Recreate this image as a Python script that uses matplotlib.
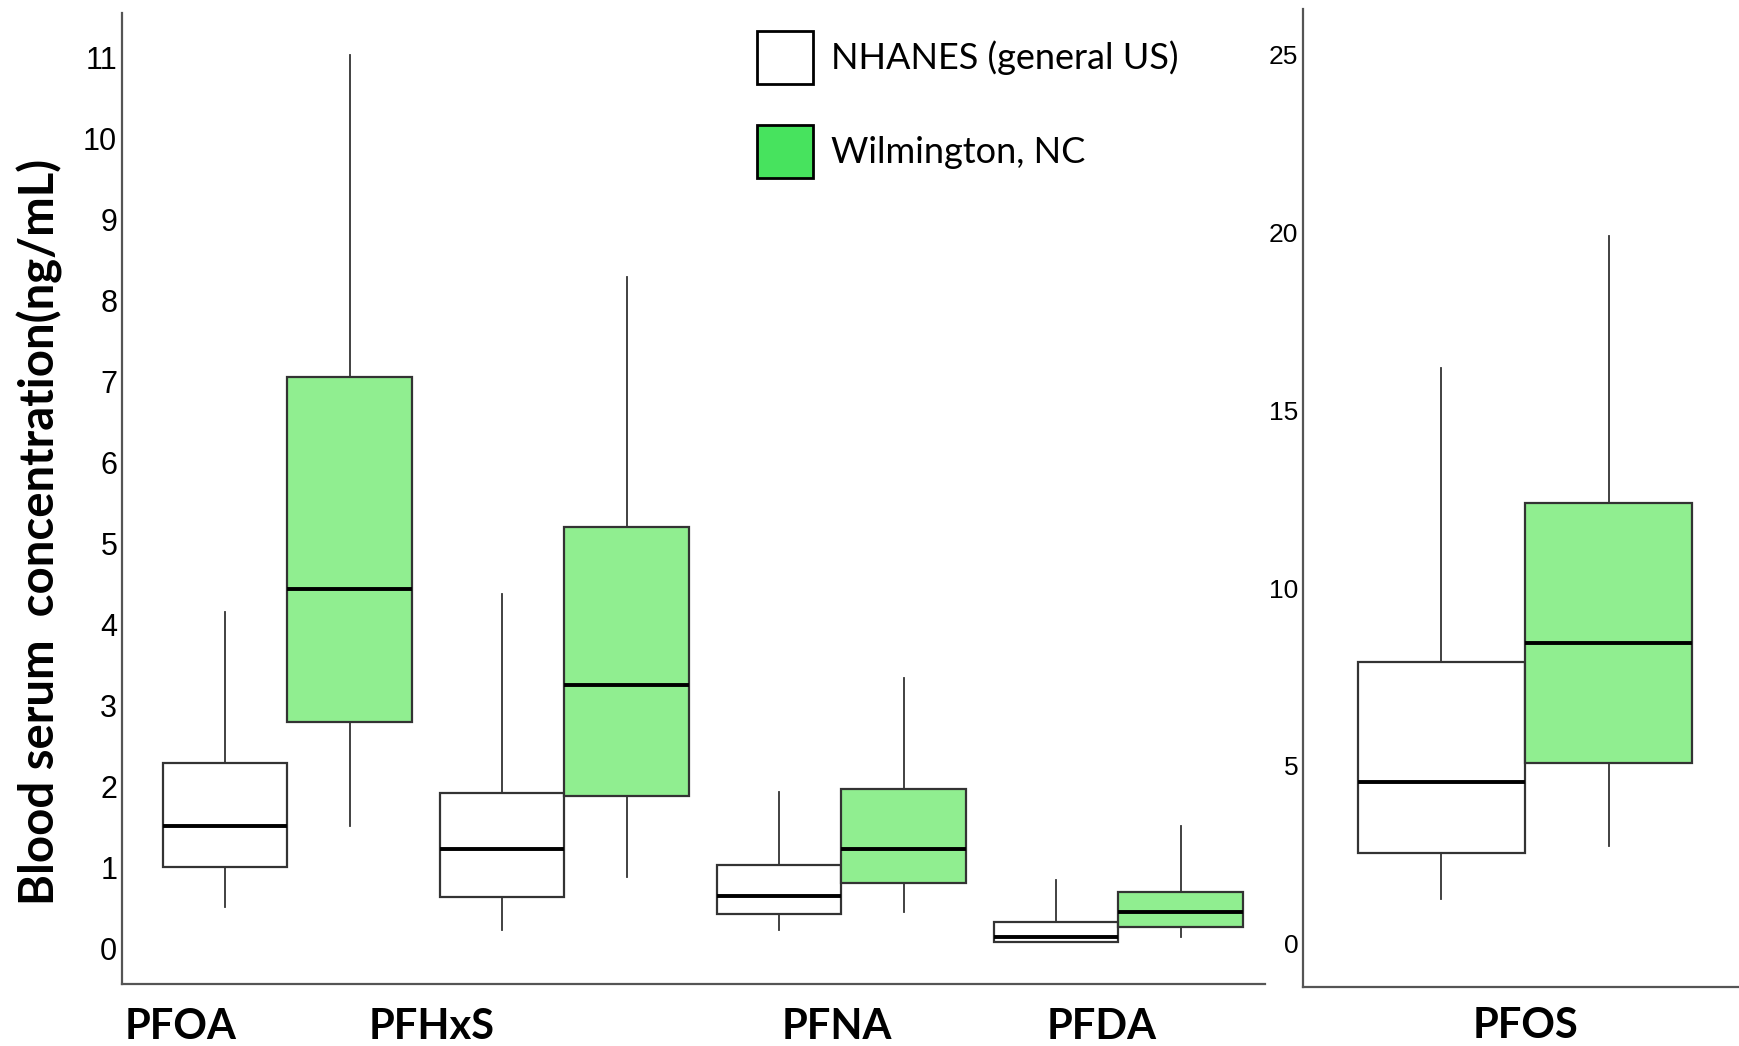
import matplotlib
matplotlib.use("Agg")
import matplotlib.pyplot as plt
from matplotlib.patches import Patch
import matplotlib.transforms as mtransforms

# Datos leídos da figura (ng/mL)
compounds = ["PFOA", "PFHxS", "PFNA", "PFDA"]
groups = ["NHANES (general US)", "Wilmington, NC"]

# NHANES: whislo, q1, med, q3, whishi
nhanes_lo = [0.51, 0.23, 0.23, 0.08]
nhanes_q1 = [1.00, 0.63, 0.42, 0.08]
nhanes_med = [1.51, 1.23, 0.64, 0.14]
nhanes_q3 = [2.29, 1.92, 1.03, 0.33]
nhanes_hi = [4.15, 4.37, 1.93, 0.84]

# Wilmington
wilm_lo = [1.51, 0.88, 0.45, 0.14]
wilm_q1 = [2.79, 1.88, 0.81, 0.26]
wilm_med = [4.44, 3.25, 1.23, 0.45]
wilm_q3 = [7.05, 5.20, 1.97, 0.70]
wilm_hi = [11.03, 8.29, 3.34, 1.51]

# PFOS (painel da direita)
pfos_nhanes = [1.25, 2.56, 4.55, 7.92, 16.18]
pfos_wilm = [2.74, 5.08, 8.45, 12.38, 19.89]

left_ticks = list(range(0, 12))
right_ticks = [0, 5, 10, 15, 20, 25]

box_green = "#90EE90"
legend_green = "#47E35E"
width = 0.45


def make_stats(lo, q1, med, q3, hi):
    return [dict(whislo=a, q1=b, med=c, q3=d, whishi=e, fliers=[])
            for a, b, c, d, e in zip(lo, q1, med, q3, hi)]


def draw(ax, stats, positions, color):
    ax.bxp(stats, positions=positions, widths=width, patch_artist=True,
           showcaps=False, showfliers=False,
           boxprops=dict(facecolor=color, edgecolor="#333333", linewidth=1.6),
           whiskerprops=dict(color="#333333", linewidth=1.3),
           medianprops=dict(color="black", linewidth=2.8))


def style(ax):
    for s in ["top", "right"]:
        ax.spines[s].set_visible(False)
    for s in ["left", "bottom"]:
        ax.spines[s].set_color("#555555")
        ax.spines[s].set_linewidth(1.6)
    ax.tick_params(axis="both", length=0)
    ax.set_xticks([])


fig = plt.figure(figsize=(17.39, 10.46), dpi=100)
ax1 = fig.add_axes([0.0702, 0.0594, 0.657, 0.928])
ax2 = fig.add_axes([0.7494, 0.0562, 0.2506, 0.9353])

pos = [1, 2, 3, 4]
draw(ax1, make_stats(nhanes_lo, nhanes_q1, nhanes_med, nhanes_q3, nhanes_hi),
     [p - width / 2 for p in pos], "white")
draw(ax1, make_stats(wilm_lo, wilm_q1, wilm_med, wilm_q3, wilm_hi),
     [p + width / 2 for p in pos], box_green)
ax1.set_xlim(0.404, 4.528)
ax1.set_ylim(-0.44, 11.55)
ax1.set_yticks(left_ticks)
ax1.set_yticklabels([str(t) for t in left_ticks], fontsize=22,
                    family="Liberation Sans")
style(ax1)

draw(ax2, make_stats(*[[v] for v in pfos_nhanes]), [1 - width / 2], "white")
draw(ax2, make_stats(*[[v] for v in pfos_wilm]), [1 + width / 2], box_green)
ax2.set_xlim(0.404, 1.575)
ax2.set_ylim(-1.22, 26.28)
ax2.set_yticks(right_ticks)
ax2.set_yticklabels([str(t) for t in right_ticks], fontsize=19,
                    family="Liberation Sans")
style(ax2)

ax1.set_ylabel("Blood serum  concentration(ng/mL)", fontsize=34,
               fontweight="bold", family="Lato")
ax1.yaxis.set_label_coords(-0.052, 0.466)

# rótulos das categorias (posições como no original)
label_x = [0.616, 1.52, 2.984, 3.94]
tr1 = mtransforms.blended_transform_factory(ax1.transData, ax1.transAxes)
for name, x in zip(compounds, label_x):
    ax1.text(x, -0.044, name, transform=tr1, ha="center", va="center",
             fontsize=30, fontweight="bold", family="Lato")
tr2 = mtransforms.blended_transform_factory(ax2.transData, ax2.transAxes)
ax2.text(1.0, -0.04, "PFOS", transform=tr2, ha="center", va="center",
         fontsize=30, fontweight="bold", family="Lato")

handles = [Patch(facecolor="white", edgecolor="black", linewidth=2),
           Patch(facecolor=legend_green, edgecolor="black", linewidth=2)]
fig.legend(handles, groups, loc="upper left",
           bbox_to_anchor=(683 / 1568, 1 - 28 / 943), frameon=False,
           borderpad=0, borderaxespad=0, handlelength=1.54, handleheight=1.86,
           handletextpad=0.5, labelspacing=1.15,
           prop=dict(family="Lato", size=26))

fig.savefig("out.png", dpi=100)
